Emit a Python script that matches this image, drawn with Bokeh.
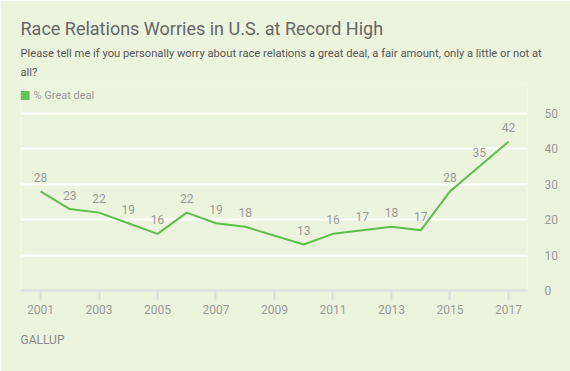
from bokeh.plotting import figure
from bokeh.models import Label, Range1d, FixedTicker, ColumnDataSource, BoxAnnotation, Title
from bokeh.core.properties import value
from bokeh.embed import file_html
from bokeh.resources import INLINE

# ---- data ----
years = [2001, 2002, 2003, 2004, 2005, 2006, 2007, 2008, 2010, 2011, 2012, 2013, 2014, 2015, 2016, 2017]
great_deal = [28, 23, 22, 19, 16, 22, 19, 18, 13, 16, 17, 18, 17, 28, 35, 42]
x_ticks = [2001, 2003, 2005, 2007, 2009, 2011, 2013, 2015, 2017]
y_ticks = [0, 10, 20, 30, 40, 50]
title_text = "Race Relations Worries in U.S. at Record High"
subtitle_lines = ["Please tell me if you personally worry about race relations a great deal, a fair amount, only a little or not at",
                  "all?"]
legend_text = "% Great deal"
source_text = "GALLUP"

BG = "#EDF4DE"
GREEN = "#5DBE4C"
FONT = "Roboto"
W, H = 570, 371
FL, FR, FT, FB = 20, 527, 84, 290      # frame edges in canvas pixels
PX_PER_UNIT = (290 - 113) / 50.0


def rel(x, y):
    # canvas pixel -> frame-relative screen units
    return x - FL, FB - y


src = ColumnDataSource(dict(year=years, val=great_deal, label=[str(v) for v in great_deal]))

p = figure(width=W, height=H, output_backend="svg", toolbar_location=None, title=None,
           x_range=Range1d(2000.316, 2017.65), y_range=Range1d(0, (FB - FT) / PX_PER_UNIT),
           min_border_left=FL, min_border_right=W - FR, min_border_top=FT, min_border_bottom=H - FB,
           y_axis_location="right")
p.background_fill_color = BG
p.border_fill_color = BG
p.outline_line_color = None

p.xgrid.grid_line_color = None
p.ygrid.ticker = FixedTicker(ticks=y_ticks)
p.ygrid.grid_line_color = "white"
p.ygrid.grid_line_width = 2

xa = p.xaxis[0]
xa.ticker = FixedTicker(ticks=x_ticks)
xa.axis_line_color = "#DCDCDC"
xa.axis_line_width = 2
xa.major_tick_line_color = "#DCDCDC"
xa.major_tick_line_width = 2
xa.major_tick_in = 0
xa.major_tick_out = 9
xa.minor_tick_line_color = None
xa.major_label_text_color = "#999999"
xa.major_label_text_font = FONT
xa.major_label_text_font_size = "12px"
xa.major_label_standoff = 5

ya = p.yaxis[0]
ya.ticker = FixedTicker(ticks=y_ticks)
ya.axis_line_color = None
ya.major_tick_line_color = None
ya.minor_tick_line_color = None
ya.major_label_text_color = "#999999"
ya.major_label_text_font = FONT
ya.major_label_text_font_size = "12px"
ya.major_label_standoff = 11

p.line("year", "val", source=src, line_color=GREEN, line_width=2)
p.text("year", "val", text="label", source=src, text_align="center", text_baseline="middle",
       y_offset=-14, text_color="#999999", text_font_size="12px", text_font=value(FONT))

# legend (inside the frame's top band)
l, t = rel(20, 90.5)
r, b = rel(29, 99.5)
p.add_layout(BoxAnnotation(left=l, right=r, top=t, bottom=b,
                           left_units="screen", right_units="screen", top_units="screen", bottom_units="screen",
                           fill_color="#63C155", fill_alpha=1, line_color=None))
lx, ly = rel(33, 95)
p.add_layout(Label(x=lx, y=ly, x_units="screen", y_units="screen", text=legend_text,
                   text_font=FONT, text_font_size="11px", text_color="#999999", text_baseline="middle"))

# titles stacked above the frame (first added = closest to frame)
p.add_layout(Title(text=subtitle_lines[1], align="left", text_font=FONT, text_font_size="11.2px",
                   text_color="#555555", text_font_style="normal", standoff=10.5), "above")
p.add_layout(Title(text=subtitle_lines[0], align="left", text_font=FONT, text_font_size="11.2px",
                   text_color="#555555", text_font_style="normal", standoff=-3.5), "above")
p.add_layout(Title(text=title_text, align="left", text_font=FONT, text_font_size="18px",
                   text_color="#666666", text_font_style="normal", standoff=16), "above")

p.add_layout(Title(text=source_text, align="left", text_font=FONT, text_font_size="12px",
                   text_color="#888888", text_font_style="normal", standoff=28.5), "below")

open("out.html", "w").write(file_html(p, INLINE))
